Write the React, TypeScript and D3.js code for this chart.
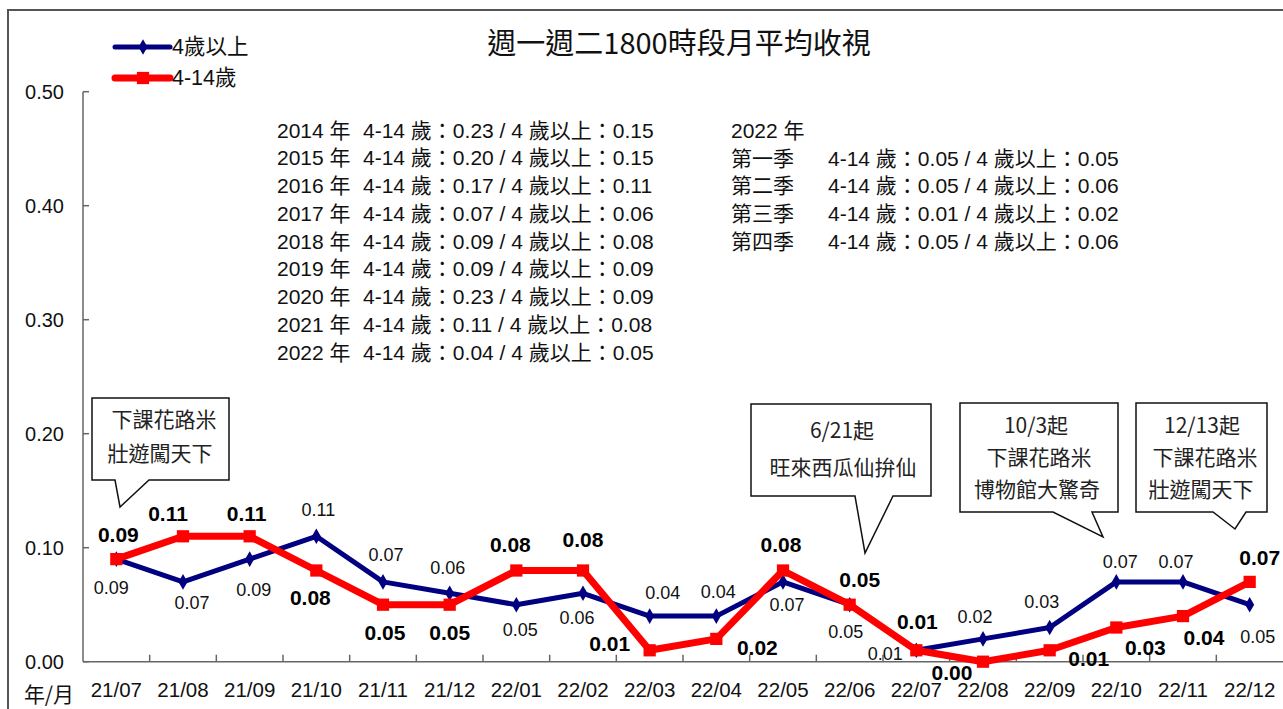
import React from 'react'
import * as d3 from 'd3'

// monthly average ratings, Mon-Tue 18:00 slot
const months = ['21/07', '21/08', '21/09', '21/10', '21/11', '21/12', '22/01', '22/02', '22/03',
    '22/04', '22/05', '22/06', '22/07', '22/08', '22/09', '22/10', '22/11', '22/12']
const age4plus = [0.09, 0.07, 0.09, 0.11, 0.07, 0.06, 0.05, 0.06, 0.04, 0.04, 0.07, 0.05, 0.01, 0.02, 0.03, 0.07, 0.07, 0.05]
const age4to14 = [0.09, 0.11, 0.11, 0.08, 0.05, 0.05, 0.08, 0.08, 0.01, 0.02, 0.08, 0.05, 0.01, 0.00, 0.01, 0.03, 0.04, 0.07]
const yTicks = [0, 0.1, 0.2, 0.3, 0.4, 0.5]

// yearly averages
const years = ['2014', '2015', '2016', '2017', '2018', '2019', '2020', '2021', '2022']
const yearKids = ['0.23', '0.20', '0.17', '0.07', '0.09', '0.09', '0.23', '0.11', '0.04']
const yearAll = ['0.15', '0.15', '0.11', '0.06', '0.08', '0.09', '0.09', '0.08', '0.05']

// 2022 quarters
const quarters = ['第一季', '第二季', '第三季', '第四季']
const quarterKids = ['0.05', '0.05', '0.01', '0.05']
const quarterAll = ['0.05', '0.06', '0.02', '0.06']

// callout texts
const calloutTexts = [
    ['下課花路米', '壯遊闖天下'],
    ['6/21起', '旺來西瓜仙拚仙'],
    ['10/3起', '下課花路米', '博物館大驚奇'],
    ['12/13起', '下課花路米', '壯遊闖天下'],
]

// label offsets (dx, dy) from each point, as placed in the original
const blueLabelPos = [[-5, 29], [9, 21], [4, 31], [2, -26], [3, -27], [-2, -25], [4, 25], [-6, 25], [13, -23],
    [2, -24], [4, 23], [-4, 27], [-31, 4], [-8, -22], [-8, -26], [4, -20], [-7, -20], [8, 32]]
const redLabelPos = [[2, -25], [-15, -23], [-3, -23], [-6, 27], [2, 28], [0, 28], [-6, -26], [0, -31], [-40, -7],
    [41, 9], [-2, -26], [10, -25], [1, -29], [-31, 11], [39, 8], [29, 20], [21, 21], [10, -24]]

// callout geometry: box [x0, y0, x1, y1], pointer base [left, right], tip [x, y], text center x, first line y, line step
const calloutGeo = [
    { box: [92, 398, 229, 480], base: [115, 149], tip: [120, 507], cx: [164, 160], y0: 418, step: 34 },
    { box: [751, 404, 931, 496], base: [855, 893], tip: [865, 553], cx: [842, 843], y0: 429, step: 37 },
    { box: [960, 403, 1118, 512], base: [1053, 1092], tip: [1103, 537], cx: [1036, 1039, 1037], y0: 424, step: 32 },
    { box: [1136, 403, 1267, 512], base: [1213, 1246], tip: [1235, 529], cx: [1202, 1205, 1201], y0: 424, step: 32 },
]

const W = 1283
const H = 709
const left = 83
const right = 1283
const top = 91.7
const bottom = 661.7

const FONT = '"Liberation Sans", Arial, "Noto Sans CJK TC", sans-serif'
const CJK = '"Noto Sans CJK TC", "Liberation Sans", sans-serif'
const BLUE = '#000080'
const RED = '#ff0000'
const AXIS = '#666'

export default function App() {
    const x = d3.scaleBand<string>().domain(months).range([left, right])
    const y = d3.scaleLinear().domain([0, 0.5]).range([bottom, top])
    const cx = (m: string) => (x(m) as number) + x.bandwidth() / 2

    const line = d3.line<number>()
        .x((_, i) => cx(months[i]))
        .y(d => y(d))

    const diamond = d3.symbol(d3.symbolDiamond, 70)()
    const square = d3.symbol(d3.symbolSquare, 150)()

    return (
        <svg width={W} height={H} style={{ position: 'absolute', left: 0, top: 0, background: '#fff' }}
            fontFamily={FONT}>
            {/* outer frame */}
            <path d={`M8,${H} V10 H${W}`} fill="none" stroke="#555" strokeWidth={2} />

            {/* title */}
            <text x={679} y={41} textAnchor="middle" dominantBaseline="central" fontSize={29}
                fontFamily={CJK} fill="#111">週一週二1800時段月平均收視</text>

            {/* legend */}
            <g>
                <line x1={115} x2={170} y1={47} y2={47} stroke={BLUE} strokeWidth={5} strokeLinecap="round" />
                <path d={diamond} transform="translate(143,47)" fill={BLUE} />
                <text x={172} y={47} dominantBaseline="central" fontSize={21.5} fill="#111">4歲以上</text>
                <line x1={115} x2={170} y1={78} y2={78} stroke={RED} strokeWidth={7} strokeLinecap="round" />
                <path d={square} transform="translate(143,78)" fill={RED} />
                <text x={172} y={78} dominantBaseline="central" fontSize={21.5} fill="#111">4-14歲</text>
            </g>

            {/* axes */}
            <g>
                <line x1={left} x2={left} y1={top} y2={bottom} stroke={AXIS} strokeWidth={1.5} />
                <line x1={left} x2={right} y1={bottom} y2={bottom} stroke={AXIS} strokeWidth={1.5} />
                {yTicks.map(t => (
                    <g key={t}>
                        <line x1={left} x2={left + 6} y1={y(t)} y2={y(t)} stroke={AXIS} strokeWidth={1.5} />
                        <text x={64} y={y(t)} textAnchor="end" dominantBaseline="central" fontSize={20}
                            fill="#111">{t.toFixed(2)}</text>
                    </g>
                ))}
                {months.map((m, i) => (
                    <g key={m}>
                        {i > 0 && <line x1={x(m)} x2={x(m)} y1={bottom} y2={bottom - 7} stroke={AXIS} strokeWidth={1.5} />}
                        <text x={cx(m)} y={689} textAnchor="middle" dominantBaseline="central" fontSize={20.5}
                            fill="#111">{m}</text>
                    </g>
                ))}
                <text x={49} y={693} textAnchor="middle" dominantBaseline="central" fontSize={21}
                    fontFamily={CJK} fill="#111">年/月</text>
            </g>

            {/* yearly summary */}
            <g fontSize={21} fill="#111">
                {years.map((yr, i) => (
                    <g key={yr}>
                        <text x={277} y={130 + i * 27.75} dominantBaseline="central">{`${yr} 年`}</text>
                        <text x={363} y={130 + i * 27.75} dominantBaseline="central">
                            {`4-14 歲：${yearKids[i]} / 4 歲以上：${yearAll[i]}`}
                        </text>
                    </g>
                ))}
                <text x={731} y={130} dominantBaseline="central">2022 年</text>
                {quarters.map((q, i) => (
                    <g key={q}>
                        <text x={731} y={158 + i * 27.75} dominantBaseline="central">{q}</text>
                        <text x={828} y={158 + i * 27.75} dominantBaseline="central">
                            {`4-14 歲：${quarterKids[i]} / 4 歲以上：${quarterAll[i]}`}
                        </text>
                    </g>
                ))}
            </g>

            {/* series */}
            <path d={line(age4plus) || ''} fill="none" stroke={BLUE} strokeWidth={5} strokeLinejoin="round" />
            {age4plus.map((v, i) => (
                <path key={i} d={diamond} transform={`translate(${cx(months[i])},${y(v)})`} fill={BLUE} />
            ))}
            <path d={line(age4to14) || ''} fill="none" stroke={RED} strokeWidth={7} strokeLinejoin="round" />
            {age4to14.map((v, i) => (
                <path key={i} d={square} transform={`translate(${cx(months[i])},${y(v)})`} fill={RED} />
            ))}

            {/* data labels */}
            {age4plus.map((v, i) => (
                <text key={'b' + i} x={cx(months[i]) + blueLabelPos[i][0]} y={y(v) + blueLabelPos[i][1]}
                    textAnchor="middle" dominantBaseline="central" fontSize={18} fill="#111">{v.toFixed(2)}</text>
            ))}
            {age4to14.map((v, i) => (
                <text key={'r' + i} x={cx(months[i]) + redLabelPos[i][0]} y={y(v) + redLabelPos[i][1]}
                    textAnchor="middle" dominantBaseline="central" fontSize={21} fontWeight="bold"
                    fill="#000">{v.toFixed(2)}</text>
            ))}

            {/* callouts */}
            {calloutGeo.map((c, k) => {
                const [x0, y0, x1, y1] = c.box
                const d = `M${x0},${y0} H${x1} V${y1} H${c.base[1]} L${c.tip[0]},${c.tip[1]} L${c.base[0]},${y1} H${x0} Z`
                return (
                    <g key={k}>
                        <path d={d} fill="#fff" stroke="#111" strokeWidth={1.5} />
                        {calloutTexts[k].map((t, j) => (
                            <text key={j} x={c.cx[j]} y={c.y0 + j * c.step} textAnchor="middle"
                                dominantBaseline="central" fontSize={21} fontFamily={CJK} fill="#222">{t}</text>
                        ))}
                    </g>
                )
            })}
        </svg>
    )
}
